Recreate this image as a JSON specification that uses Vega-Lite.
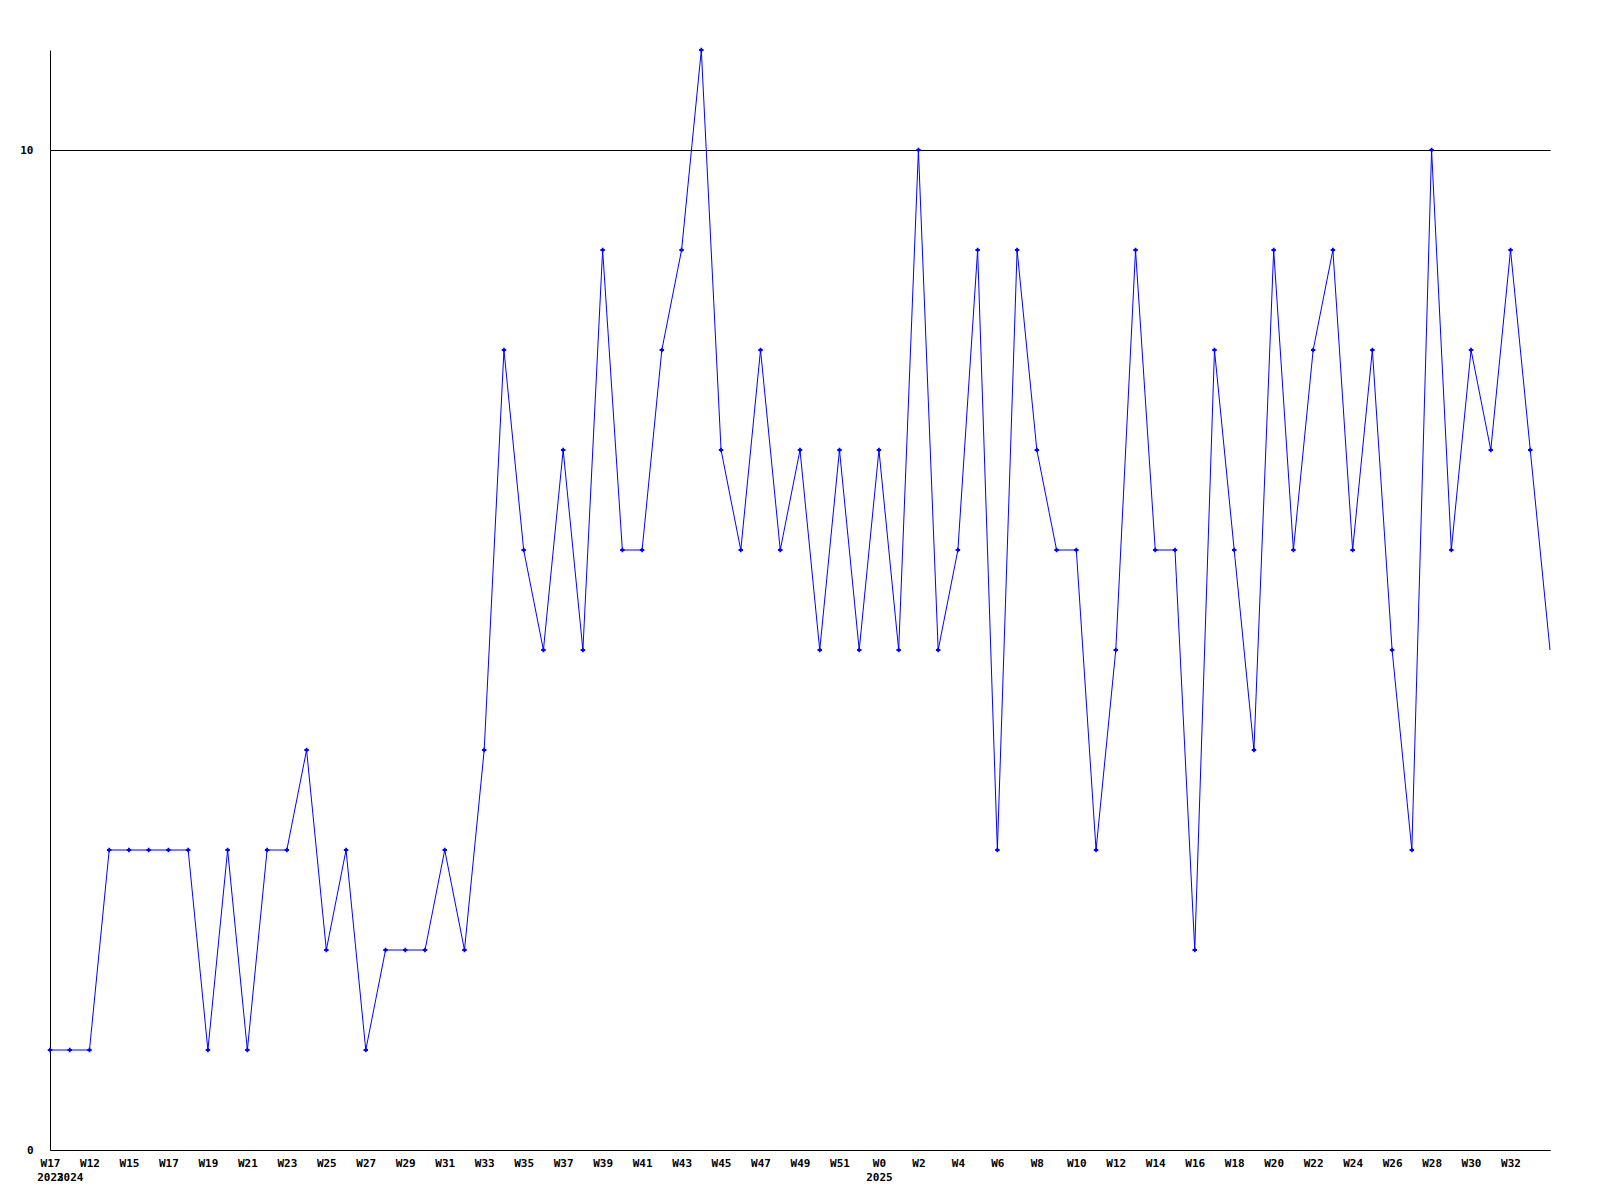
{
  "$schema": "https://vega.github.io/schema/vega-lite/v6.json",
  "autosize": {"type": "none"},
  "padding": {"left": 50, "top": 50, "right": 50, "bottom": 50},
  "width": 1500,
  "height": 1100,
  "background": "white",
  "config": {"view": {"stroke": null}},
  "data": {"values": [
    {"key": "2023-W17", "count": 1},
    {"key": "2024-W11", "count": 1},
    {"key": "2024-W12", "count": 1},
    {"key": "2024-W13", "count": 3},
    {"key": "2024-W15", "count": 3},
    {"key": "2024-W16", "count": 3},
    {"key": "2024-W17", "count": 3},
    {"key": "2024-W18", "count": 3},
    {"key": "2024-W19", "count": 1},
    {"key": "2024-W20", "count": 3},
    {"key": "2024-W21", "count": 1},
    {"key": "2024-W22", "count": 3},
    {"key": "2024-W23", "count": 3},
    {"key": "2024-W24", "count": 4},
    {"key": "2024-W25", "count": 2},
    {"key": "2024-W26", "count": 3},
    {"key": "2024-W27", "count": 1},
    {"key": "2024-W28", "count": 2},
    {"key": "2024-W29", "count": 2},
    {"key": "2024-W30", "count": 2},
    {"key": "2024-W31", "count": 3},
    {"key": "2024-W32", "count": 2},
    {"key": "2024-W33", "count": 4},
    {"key": "2024-W34", "count": 8},
    {"key": "2024-W35", "count": 6},
    {"key": "2024-W36", "count": 5},
    {"key": "2024-W37", "count": 7},
    {"key": "2024-W38", "count": 5},
    {"key": "2024-W39", "count": 9},
    {"key": "2024-W40", "count": 6},
    {"key": "2024-W41", "count": 6},
    {"key": "2024-W42", "count": 8},
    {"key": "2024-W43", "count": 9},
    {"key": "2024-W44", "count": 11},
    {"key": "2024-W45", "count": 7},
    {"key": "2024-W46", "count": 6},
    {"key": "2024-W47", "count": 8},
    {"key": "2024-W48", "count": 6},
    {"key": "2024-W49", "count": 7},
    {"key": "2024-W50", "count": 5},
    {"key": "2024-W51", "count": 7},
    {"key": "2024-W52", "count": 5},
    {"key": "2025-W0", "count": 7},
    {"key": "2025-W1", "count": 5},
    {"key": "2025-W2", "count": 10},
    {"key": "2025-W3", "count": 5},
    {"key": "2025-W4", "count": 6},
    {"key": "2025-W5", "count": 9},
    {"key": "2025-W6", "count": 3},
    {"key": "2025-W7", "count": 9},
    {"key": "2025-W8", "count": 7},
    {"key": "2025-W9", "count": 6},
    {"key": "2025-W10", "count": 6},
    {"key": "2025-W11", "count": 3},
    {"key": "2025-W12", "count": 5},
    {"key": "2025-W13", "count": 9},
    {"key": "2025-W14", "count": 6},
    {"key": "2025-W15", "count": 6},
    {"key": "2025-W16", "count": 2},
    {"key": "2025-W17", "count": 8},
    {"key": "2025-W18", "count": 6},
    {"key": "2025-W19", "count": 4},
    {"key": "2025-W20", "count": 9},
    {"key": "2025-W21", "count": 6},
    {"key": "2025-W22", "count": 8},
    {"key": "2025-W23", "count": 9},
    {"key": "2025-W24", "count": 6},
    {"key": "2025-W25", "count": 8},
    {"key": "2025-W26", "count": 5},
    {"key": "2025-W27", "count": 3},
    {"key": "2025-W28", "count": 10},
    {"key": "2025-W29", "count": 6},
    {"key": "2025-W30", "count": 8},
    {"key": "2025-W31", "count": 7},
    {"key": "2025-W32", "count": 9},
    {"key": "2025-W33", "count": 7},
    {"key": "2025-W34", "count": 5}
  ]},
  "encoding": {
    "x": {
      "field": "key", "type": "ordinal", "sort": null,
      "scale": {"type": "point", "padding": 0},
      "axis": {
        "title": null,
        "values": ["2023-W17", "2024-W11", "2024-W12", "2024-W15", "2024-W17", "2024-W19", "2024-W21", "2024-W23", "2024-W25", "2024-W27", "2024-W29", "2024-W31", "2024-W33", "2024-W35", "2024-W37", "2024-W39", "2024-W41", "2024-W43", "2024-W45", "2024-W47", "2024-W49", "2024-W51", "2025-W0", "2025-W2", "2025-W4", "2025-W6", "2025-W8", "2025-W10", "2025-W12", "2025-W14", "2025-W16", "2025-W18", "2025-W20", "2025-W22", "2025-W24", "2025-W26", "2025-W28", "2025-W30", "2025-W32"],
        "labelExpr": "indexof(['2023-W17','2024-W11','2025-W0'], datum.value) >= 0 ? [datum.value == '2024-W11' ? ' ' : split(datum.value,'-')[1], split(datum.value,'-')[0]] : split(datum.value,'-')[1]",
        "labelAngle": 0,
        "labelAlign": "center",
        "labelBaseline": "top",
        "labelPadding": 7,
        "labelLineHeight": 14,
        "labelOverlap": false,
        "labelBound": false,
        "labelFlush": false,
        "labelFont": "DejaVu Sans Mono",
        "labelFontWeight": "bold",
        "labelFontSize": 11,
        "labelColor": "black",
        "ticks": false,
        "grid": false,
        "domainColor": "black",
        "domainWidth": 1
      }
    },
    "y": {
      "field": "count", "type": "quantitative",
      "scale": {"domain": [0, 11], "nice": false, "zero": true},
      "axis": {
        "title": null,
        "values": [0, 10],
        "ticks": false,
        "grid": true,
        "gridColor": "black",
        "gridOpacity": 1,
        "gridWidth": 1,
        "domainColor": "black",
        "domainWidth": 1,
        "labelPadding": 17,
        "labelFont": "DejaVu Sans Mono",
        "labelFontWeight": "bold",
        "labelFontSize": 11,
        "labelColor": "black"
      }
    }
  },
  "layer": [
    {"mark": {"type": "line", "color": "#0000ff", "strokeWidth": 1, "interpolate": "linear"}},
    {
      "transform": [{"filter": "datum.key != '2025-W34'"}],
      "mark": {"type": "point", "shape": "cross", "size": 20, "filled": true, "color": "#0000ff", "opacity": 1}
    }
  ]
}
